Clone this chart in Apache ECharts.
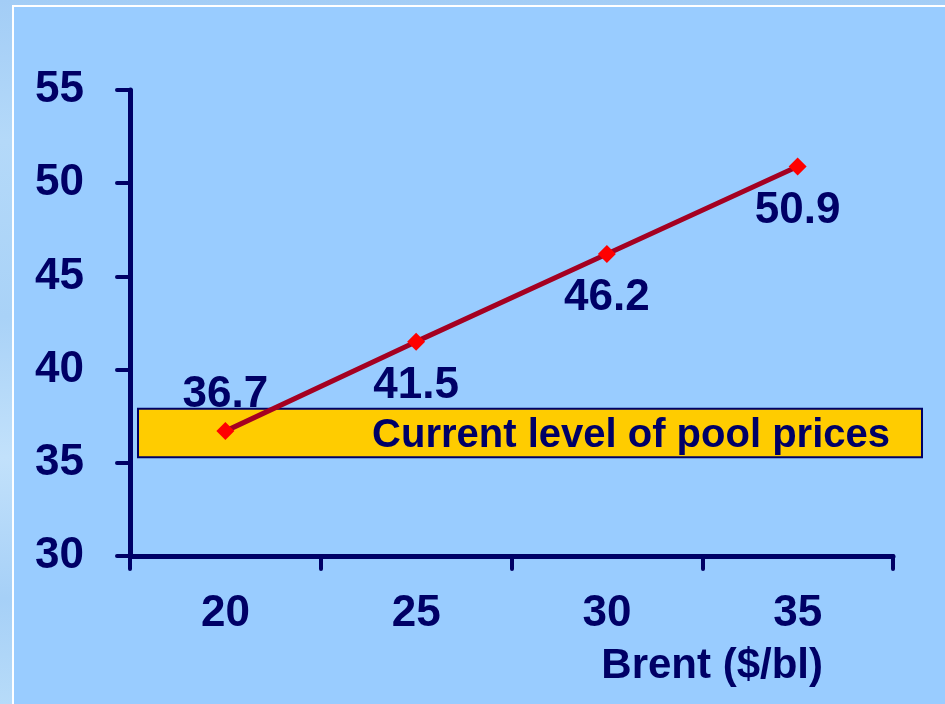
<!DOCTYPE html>
<html>
<head>
<meta charset="utf-8">
<script src="https://cdn.jsdelivr.net/npm/echarts@6/dist/echarts.min.js"></script>
<style>
  html, body { margin: 0; padding: 0; width: 945px; height: 704px; overflow: hidden;
    background: linear-gradient(to bottom, #a3cdf6 0%, #b4d9f9 20%, #a9d2f7 45%, #c2e1fb 65%, #a6d0f7 85%, #b7dbf9 100%); }
  #panel { position: absolute; left: 12px; top: 5px; width: 933px; height: 699px;
    background: #99CCFF; border-left: 2px solid #ffffff; border-top: 2px solid #ffffff; }
  #chart { position: absolute; left: 0; top: 0; width: 945px; height: 704px; }
</style>
</head>
<body>
<div id="panel"></div>
<div id="chart"></div>
<script>
// Data
const categories = ['20', '25', '30', '35'];
const poolPrices = [36.7, 41.5, 46.2, 50.9];
const poolBand = [35.3, 37.9];
const bandLabel = 'Current level of pool prices';
const xAxisTitle = 'Brent ($/bl)';

const navy = '#000066';
const font = '"Liberation Sans", Arial, sans-serif';

const chart = echarts.init(document.getElementById('chart'), null, { renderer: 'canvas' });

const seriesData = poolPrices.map((v, i) => ({
  value: v,
  label: { offset: i === 0 ? [0, -36] : [0, 44] }
}));

chart.setOption({
  backgroundColor: 'transparent',
  animation: false,
  title: {
    text: xAxisTitle,
    right: 122,
    top: 645,
    padding: 0,
    textStyle: { color: navy, fontSize: 42, fontWeight: 'bold', fontFamily: font }
  },
  grid: { left: 130, right: 52, top: 90, bottom: 148, containLabel: false },
  xAxis: {
    type: 'category',
    data: categories,
    boundaryGap: true,
    axisLine: { show: true, lineStyle: { color: navy, width: 5, cap: 'round' } },
    axisTick: { show: true, alignWithLabel: false, length: 13, lineStyle: { color: navy, width: 4, cap: 'round' } },
    axisLabel: { color: navy, fontSize: 44, fontWeight: 'bold', fontFamily: font, margin: 36 },
    splitLine: { show: false }
  },
  yAxis: {
    type: 'value',
    min: 30,
    max: 55,
    interval: 5,
    axisLine: { show: true, lineStyle: { color: navy, width: 5, cap: 'round' } },
    axisTick: { show: true, length: 13, lineStyle: { color: navy, width: 4, cap: 'round' } },
    axisLabel: { color: navy, fontSize: 44, fontWeight: 'bold', fontFamily: font, margin: 46 },
    splitLine: { show: false }
  },
  series: [{
    type: 'line',
    data: seriesData,
    clip: false,
    symbol: 'diamond',
    symbolSize: 18,
    itemStyle: { color: '#FF0000' },
    lineStyle: { color: '#A50021', width: 5 },
    z: 5,
    label: {
      show: true,
      position: 'inside',
      color: navy,
      fontSize: 44,
      fontWeight: 'bold',
      fontFamily: font
    },
    markArea: {
      silent: true,
      z: 1,
      itemStyle: { color: '#FFCC00', borderColor: navy, borderWidth: 2 },
      label: {
        show: true,
        position: 'insideRight',
        distance: 33,
        offset: [0, 3],
        color: navy,
        fontSize: 40,
        fontWeight: 'bold',
        fontFamily: font
      },
      data: [[
        { name: bandLabel, x: 138, yAxis: poolBand[1] },
        { x: 922, yAxis: poolBand[0] }
      ]]
    }
  }]
});
</script>
</body>
</html>
